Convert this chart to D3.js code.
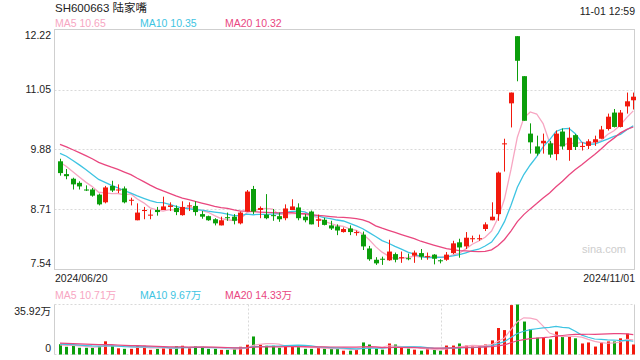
<!DOCTYPE html>
<html><head><meta charset="utf-8">
<script src="https://cdn.jsdelivr.net/npm/d3@7/dist/d3.min.js"></script>
<style>
html,body{margin:0;padding:0;background:#fff;}
svg{display:block;font-family:"Liberation Sans",Arial,"Noto Sans CJK SC",sans-serif;}
</style>
</head><body>
<svg id="chart" width="640" height="360"></svg>
<script>
// ---------- data ----------
const title = "SH600663 陆家嘴";
const timeLabel = "11-01 12:59";
const dateLabels = ["2024/06/20", "2024/11/01"];
const priceTicks = [7.54, 8.71, 9.88, 11.05, 12.22];
const priceTickLabels = ["7.54", "8.71", "9.88", "11.05", "12.22"];
const volTicks = [0, 35.92];
const volTickLabels = ["0", "35.92万"];
const maNames = ["MA5", "MA10", "MA20"];
const maValueLabels = ["10.65", "10.35", "10.32"];
const volMaValueLabels = ["10.71万", "9.67万", "14.33万"];
const watermark = "sina.com";

const open = [9.65,9.40,9.31,9.23,9.10,9.10,9.00,8.85,9.17,9.08,
  9.12,8.88,8.50,8.68,8.59,8.70,8.70,8.76,8.74,8.60,
  8.77,8.78,8.62,8.58,8.52,8.40,8.56,8.57,8.44,8.67,
  9.11,8.70,8.61,8.60,8.58,8.54,8.70,8.75,8.57,8.67,
  8.49,8.51,8.40,8.38,8.27,8.34,8.25,8.22,7.95,7.73,
  7.75,7.72,7.84,7.76,7.76,7.81,7.86,7.78,7.83,7.72,
  7.73,7.86,8.07,7.99,8.13,8.13,8.33,8.50,8.62,9.98,
  10.78,12.09,11.31,10.19,9.94,10.00,10.00,9.79,10.23,9.87,
  10.16,9.93,9.95,10.02,10.09,10.28,10.60,10.32,10.72,10.84];
const high = [9.70,9.50,9.33,9.26,9.18,9.13,9.02,9.17,9.27,9.20,
  9.16,8.94,8.83,8.76,8.71,8.76,8.96,8.85,8.79,8.87,
  8.85,8.87,8.68,8.59,8.54,8.57,8.65,8.62,8.67,9.09,
  9.17,8.77,9.01,8.72,8.65,8.81,8.91,8.83,8.62,8.69,
  8.61,8.55,8.49,8.42,8.36,8.40,8.30,8.28,8.00,7.78,
  7.79,8.12,7.87,7.89,7.85,7.91,7.94,7.87,7.84,7.74,
  7.88,8.10,8.14,8.27,8.20,8.22,8.46,8.85,9.45,10.09,
  10.99,12.09,11.31,10.39,10.15,10.19,10.05,10.25,10.29,10.31,
  10.18,10.02,10.08,10.15,10.34,10.58,10.67,10.65,10.99,10.99];
const low = [9.37,9.30,9.10,9.10,9.07,8.96,8.79,8.83,9.05,9.03,
  8.83,8.79,8.50,8.52,8.52,8.59,8.70,8.68,8.60,8.59,
  8.68,8.59,8.53,8.49,8.40,8.40,8.49,8.42,8.42,8.67,
  8.62,8.54,8.52,8.49,8.47,8.50,8.70,8.50,8.46,8.42,
  8.37,8.40,8.31,8.21,8.26,8.21,8.20,7.92,7.71,7.63,
  7.63,7.71,7.68,7.67,7.72,7.67,7.73,7.73,7.64,7.66,
  7.71,7.84,7.77,7.94,8.07,8.10,8.29,8.50,8.49,9.45,
  10.31,11.21,10.44,9.80,9.76,9.80,9.72,9.67,9.88,9.66,
  9.87,9.86,9.89,9.95,10.09,10.25,10.31,10.31,10.58,10.66];
const close = [9.42,9.36,9.20,9.16,9.08,8.98,8.81,9.14,9.08,9.10,
  8.85,8.90,8.65,8.70,8.61,8.66,8.77,8.79,8.66,8.76,
  8.79,8.66,8.57,8.50,8.44,8.50,8.54,8.49,8.65,9.06,
  8.67,8.74,8.54,8.58,8.52,8.73,8.77,8.54,8.50,8.42,
  8.52,8.41,8.34,8.30,8.33,8.27,8.27,7.99,7.74,7.66,
  7.73,7.89,7.73,7.78,7.74,7.87,7.79,7.80,7.75,7.70,
  7.83,8.05,7.97,8.16,8.15,8.15,8.42,8.57,9.43,10.00,
  10.99,11.61,10.44,10.02,9.80,10.05,9.78,10.19,9.94,10.11,
  9.93,9.95,10.04,10.08,10.27,10.52,10.32,10.60,10.82,10.91];
// volume, in 万
const volume = [7.40,5.55,6.66,4.81,4.81,4.81,5.92,9.47,6.29,4.44,
  4.07,4.07,6.29,6.29,3.33,4.07,4.44,4.44,5.92,6.29,
  4.44,5.92,5.92,4.07,4.07,3.33,3.33,4.07,5.55,7.03,
  12.95,7.03,6.29,6.29,4.81,5.92,5.92,5.55,4.07,4.07,
  4.81,4.22,4.22,4.22,2.74,2.74,3.48,8.66,7.18,4.22,
  3.48,7.92,7.18,5.18,4.22,3.48,2.74,4.22,3.70,2.74,
  6.44,6.44,7.92,6.44,5.70,5.70,7.18,10.14,19.02,17.54,
  35.50,35.92,23.68,18.28,12.06,12.06,10.88,16.50,12.80,13.32,
  11.62,7.92,8.66,5.70,8.66,9.40,9.40,11.62,15.02,7.18];
// sessions before 2024/06/20 (estimated from where the MA lines start)
const priorClose = [10.35,10.30,10.28,10.25,10.22,10.22,10.10,10.00,9.95,9.90,
  9.90,10.05,10.00,9.98,9.95,9.77,9.71,9.66,9.59];
const priorVolume = [9.0,8.5,9.5,8.0,9.0,8.5,10.0,8.0,9.0,8.5,
  8.0,7.5,9.0,8.0,7.5,7.5,6.5,7.0,6.5];

// ---------- styles ----------
const RED = "#f2190d", GREEN = "#0b9e0b";
const maColors = ["#f7a6c2", "#3ec4e2", "#e9477f"];
const maPeriods = [5, 10, 20];
const FRAME = "#cfcfcf", GRID = "#d9d9d9", TEXT = "#222";

const svg = d3.select("#chart");
const n = close.length;
const x = d3.scaleLinear().domain([0, n - 1]).range([60, 633.3]);
const y = d3.scaleLinear().domain([7.54, 12.22]).range([269.5, 29.5]);
const yv = d3.scaleLinear().domain([0, 35.92]).range([354.5, 304.5]);
const L = 54.5, R = 634.5;
const cx = i => Math.round(x(i)) + 0.5;

function movingAverage(prior, values, p) {
  const all = prior.concat(values);
  const off = prior.length;
  return values.map((_, i) => d3.mean(all.slice(off + i - p + 1, off + i + 1)));
}

// ---------- main panel ----------
// gridlines
svg.append("g").selectAll("line").data(priceTicks.slice(1, -1)).join("line")
  .attr("x1", L).attr("x2", R)
  .attr("y1", d => Math.round(y(d)) + 0.5).attr("y2", d => Math.round(y(d)) + 0.5)
  .attr("stroke", GRID).attr("stroke-width", 1).attr("stroke-dasharray", "2,2");
// frame
svg.append("rect").attr("x", L).attr("y", y(12.22)).attr("width", R - L)
  .attr("height", y(7.54) - y(12.22)).attr("fill", "none").attr("stroke", FRAME);

// watermark
svg.append("text").attr("x", 582).attr("y", 253).attr("fill", "#cdcdcd")
  .attr("font-size", 11).text(watermark);

// y labels
svg.append("g").selectAll("text").data(priceTicks).join("text")
  .attr("x", 51).attr("text-anchor", "end").attr("font-size", 10.5).attr("fill", TEXT)
  .attr("y", (d, i) => {
    const yy = y(d);
    if (i === priceTicks.length - 1) return yy + 9;
    if (i === 0) return yy - 2.5;
    return yy + 3.5;
  })
  .text((d, i) => priceTickLabels[i]);

// MA lines (price)
maPeriods.forEach((p, k) => {
  const ma = movingAverage(priorClose, close, p);
  svg.append("path").datum(ma)
    .attr("fill", "none").attr("stroke", maColors[k]).attr("stroke-width", 1.3)
    .attr("d", d3.line().x((d, i) => x(i)).y(d => y(d)));
});

// candles
const candles = svg.append("g").selectAll("g").data(d3.range(n)).join("g");
candles.append("line")
  .attr("x1", i => cx(i)).attr("x2", i => cx(i))
  .attr("y1", i => y(high[i])).attr("y2", i => y(low[i]))
  .attr("stroke", i => close[i] >= open[i] ? RED : GREEN).attr("stroke-width", 1);
candles.append("rect")
  .attr("x", i => cx(i) - 2.5).attr("width", 5)
  .attr("y", i => y(Math.max(open[i], close[i])))
  .attr("height", i => Math.max(1, Math.abs(y(open[i]) - y(close[i]))))
  .attr("fill", i => close[i] >= open[i] ? RED : GREEN);

// ---------- header texts ----------
svg.append("text").attr("x", 55).attr("y", 12).attr("font-size", 11.5).attr("fill", TEXT).text(title);
svg.append("text").attr("x", 635).attr("y", 14.5).attr("text-anchor", "end")
  .attr("font-size", 10.5).attr("fill", TEXT).text(timeLabel);
const legendX = [55, 140, 225];
maNames.forEach((m, k) => {
  svg.append("text").attr("x", legendX[k]).attr("y", 27).attr("font-size", 10.5)
    .attr("fill", maColors[k]).text(m + " " + maValueLabels[k]);
  svg.append("text").attr("x", legendX[k]).attr("y", 298.5).attr("font-size", 10.5)
    .attr("fill", maColors[k]).text(m + " " + volMaValueLabels[k]);
});
// date labels
svg.append("text").attr("x", 55).attr("y", 282).attr("font-size", 10.5).attr("fill", TEXT).text(dateLabels[0]);
svg.append("text").attr("x", 635).attr("y", 282).attr("text-anchor", "end")
  .attr("font-size", 10.5).attr("fill", TEXT).text(dateLabels[1]);

// ---------- volume panel ----------
[yv(35.92), yv(0)].forEach(v => {
  svg.append("line").attr("x1", L).attr("x2", R).attr("y1", v).attr("y2", v)
    .attr("stroke", GRID).attr("stroke-dasharray", "2,2");
});
[L + (R - L) / 3, L + 2 * (R - L) / 3].forEach(v => {
  const xx = Math.round(v) + 0.5;
  svg.append("line").attr("x1", xx).attr("x2", xx).attr("y1", yv(35.92)).attr("y2", yv(0))
    .attr("stroke", GRID).attr("stroke-dasharray", "2,2");
});
svg.append("line").attr("x1", L).attr("x2", L).attr("y1", yv(35.92)).attr("y2", yv(0)).attr("stroke", FRAME);
svg.append("line").attr("x1", R).attr("x2", R).attr("y1", yv(35.92)).attr("y2", yv(0)).attr("stroke", FRAME);

svg.append("g").selectAll("text").data(volTicks).join("text")
  .attr("x", 51).attr("text-anchor", "end").attr("font-size", 10.5).attr("fill", TEXT)
  .attr("y", (d, i) => i === 0 ? yv(d) - 3 : yv(d) + 10)
  .text((d, i) => volTickLabels[i]);

svg.append("g").selectAll("rect").data(d3.range(n)).join("rect")
  .attr("x", i => cx(i) - 1.5).attr("width", 3)
  .attr("y", i => yv(volume[i])).attr("height", i => yv(0) - yv(volume[i]))
  .attr("fill", i => close[i] >= open[i] ? RED : GREEN);

maPeriods.forEach((p, k) => {
  const ma = movingAverage(priorVolume, volume, p);
  svg.append("path").datum(ma)
    .attr("fill", "none").attr("stroke", maColors[k]).attr("stroke-width", 1.2)
    .attr("d", d3.line().x((d, i) => x(i)).y(d => yv(d)));
});
</script>
</body></html>
